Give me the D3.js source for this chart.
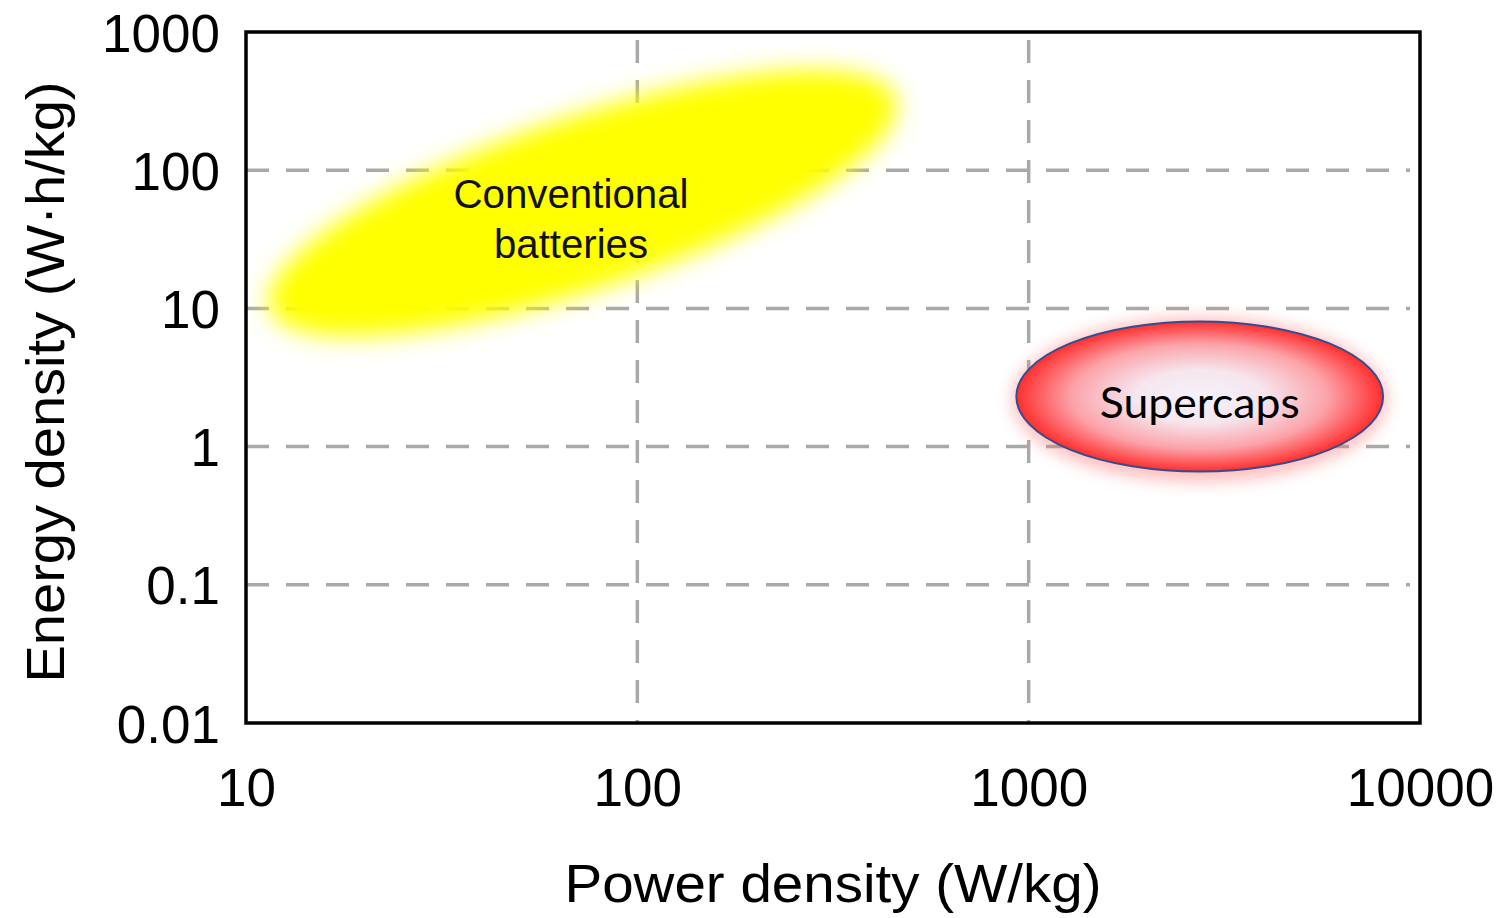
<!DOCTYPE html>
<html>
<head>
<meta charset="utf-8">
<script src="https://cdn.jsdelivr.net/npm/d3@7"></script>
<style>
  html, body { margin: 0; padding: 0; background: #ffffff; }
  svg { display: block; }
</style>
</head>
<body>
<script>
// ---------- data ----------
const xTickValues = [10, 100, 1000, 10000];
const xTickLabels = ["10", "100", "1000", "10000"];
const yTickValues = [0.01, 0.1, 1, 10, 100, 1000];
const yTickLabels = ["0.01", "0.1", "1", "10", "100", "1000"];
const xGridValues = [100, 1000];
const yGridValues = [0.1, 1, 10, 100];

// region extents in data units (W/kg, W·h/kg)
const batteryAxisPower  = [11.5, 458];   // ends of the long axis
const batteryAxisEnergy = [10, 333];
const batteryLabel = ["Conventional", "batteries"];

const supercapPower  = [930, 8050];
const supercapEnergy = [0.66, 8.05];
const supercapLabel = "Supercaps";

const xTitle = "Power density (W/kg)";
const yTitle = "Energy density (W·h/kg)";

// ---------- layout ----------
const W = 1508, H = 918;
const mLeft = 246, mRight = 1420, mTop = 32, mBottom = 723;

const x = d3.scaleLog().domain([10, 10000]).range([mLeft, mRight]);
const y = d3.scaleLog().domain([0.01, 1000]).range([mBottom, mTop]);

const svg = d3.select("body").append("svg")
  .attr("width", W).attr("height", H);

const defs = svg.append("defs");

const blurY = defs.append("filter").attr("id", "blurYellow")
  .attr("x", "-30%").attr("y", "-60%").attr("width", "160%").attr("height", "220%");
blurY.append("feGaussianBlur").attr("stdDeviation", 12);

const glow = defs.append("filter").attr("id", "glowRed")
  .attr("x", "-30%").attr("y", "-50%").attr("width", "160%").attr("height", "200%");
glow.append("feGaussianBlur").attr("stdDeviation", 8);

const rg = defs.append("radialGradient").attr("id", "capGrad")
  .attr("cx", "50%").attr("cy", "50%").attr("r", "50%");
rg.append("stop").attr("offset", "0%").attr("stop-color", "#f4f2fa");
rg.append("stop").attr("offset", "35%").attr("stop-color", "#f6e6ee");
rg.append("stop").attr("offset", "70%").attr("stop-color", "#fba2a8");
rg.append("stop").attr("offset", "100%").attr("stop-color", "#ff2e2e");

// ---------- grid ----------
const grid = svg.append("g")
  .attr("stroke", "#a9a9a9").attr("stroke-width", 3.5)
  .attr("stroke-dasharray", "23,17").attr("fill", "none");

grid.selectAll("line.h").data(yGridValues).enter().append("line")
  .attr("class", "h")
  .attr("x1", mLeft).attr("x2", 1410)
  .attr("y1", d => y(d)).attr("y2", d => y(d));

grid.selectAll("line.v").data(xGridValues).enter().append("line")
  .attr("class", "v")
  .attr("y1", mTop + 8).attr("y2", mBottom)
  .attr("x1", d => x(d)).attr("x2", d => x(d));

// ---------- conventional batteries (blurred yellow ellipse) ----------
const bx1 = x(batteryAxisPower[0]), by1 = y(batteryAxisEnergy[0]);
const bx2 = x(batteryAxisPower[1]), by2 = y(batteryAxisEnergy[1]);
const bcx = (bx1 + bx2) / 2, bcy = (by1 + by2) / 2;
const brx = Math.hypot(bx2 - bx1, by2 - by1) / 2;
const bang = Math.atan2(by2 - by1, bx2 - bx1) * 180 / Math.PI;

svg.append("ellipse")
  .attr("cx", 0).attr("cy", 0).attr("rx", brx).attr("ry", 86)
  .attr("transform", `translate(${bcx},${bcy}) rotate(${bang})`)
  .attr("fill", "#ffff00")
  .attr("filter", "url(#blurYellow)");

const font = "Liberation Sans, Arial, sans-serif";

svg.append("text")
  .attr("x", 571).attr("y", 208)
  .attr("text-anchor", "middle")
  .attr("font-family", font)
  .attr("font-size", 40)
  .attr("textLength", 235).attr("lengthAdjust", "spacingAndGlyphs")
  .attr("fill", "#111")
  .text(batteryLabel[0]);
svg.append("text")
  .attr("x", 571).attr("y", 258)
  .attr("text-anchor", "middle")
  .attr("font-family", font)
  .attr("font-size", 40)
  .attr("textLength", 154).attr("lengthAdjust", "spacingAndGlyphs")
  .attr("fill", "#111")
  .text(batteryLabel[1]);

// ---------- supercaps ----------
const sx1 = x(supercapPower[0]), sx2 = x(supercapPower[1]);
const sy1 = y(supercapEnergy[1]), sy2 = y(supercapEnergy[0]);
const scx = (sx1 + sx2) / 2, scy = (sy1 + sy2) / 2;
const srx = (sx2 - sx1) / 2, sry = (sy2 - sy1) / 2;

svg.append("ellipse")
  .attr("cx", scx).attr("cy", scy + 3).attr("rx", srx + 4).attr("ry", sry + 7)
  .attr("fill", "#ff6b6b").attr("opacity", 0.45)
  .attr("filter", "url(#glowRed)");

svg.append("ellipse")
  .attr("cx", scx).attr("cy", scy).attr("rx", srx).attr("ry", sry)
  .attr("fill", "url(#capGrad)")
  .attr("stroke", "#2f4f8f").attr("stroke-width", 2);

svg.append("text")
  .attr("x", scx).attr("y", scy + 22)
  .attr("text-anchor", "middle")
  .attr("font-family", "Lato, Open Sans, sans-serif")
  .attr("font-size", 42)
  .attr("textLength", 200).attr("lengthAdjust", "spacingAndGlyphs")
  .attr("fill", "#000")
  .text(supercapLabel);

// ---------- frame ----------
svg.append("rect")
  .attr("x", mLeft).attr("y", mTop)
  .attr("width", mRight - mLeft).attr("height", mBottom - mTop)
  .attr("fill", "none").attr("stroke", "#000").attr("stroke-width", 3.5);

// ---------- axes ----------
const yAxis = d3.axisLeft(y).tickValues(yTickValues)
  .tickFormat((d, i) => yTickLabels[i]).tickSize(0).tickPadding(26);
const gy = svg.append("g").attr("transform", `translate(${mLeft},0)`).call(yAxis);
gy.select(".domain").remove();
gy.selectAll("text")
  .attr("font-family", font).attr("font-size", 53).attr("fill", "#000")
  .attr("dy", "0.36em");

const xAxis = d3.axisBottom(x).tickValues(xTickValues)
  .tickFormat((d, i) => xTickLabels[i]).tickSize(0).tickPadding(45);
const gx = svg.append("g").attr("transform", `translate(0,${mBottom})`).call(xAxis);
gx.select(".domain").remove();
gx.selectAll("text")
  .attr("font-family", font).attr("font-size", 53).attr("fill", "#000");

// ---------- titles ----------
svg.append("text")
  .attr("x", 833).attr("y", 902)
  .attr("text-anchor", "middle")
  .attr("font-family", font).attr("font-size", 53)
  .attr("textLength", 537).attr("lengthAdjust", "spacingAndGlyphs")
  .attr("fill", "#000")
  .text(xTitle);

svg.append("text")
  .attr("transform", "translate(64,382) rotate(-90)")
  .attr("text-anchor", "middle")
  .attr("font-family", font).attr("font-size", 53)
  .attr("textLength", 601).attr("lengthAdjust", "spacingAndGlyphs")
  .attr("fill", "#000")
  .text(yTitle);
</script>
</body>
</html>
